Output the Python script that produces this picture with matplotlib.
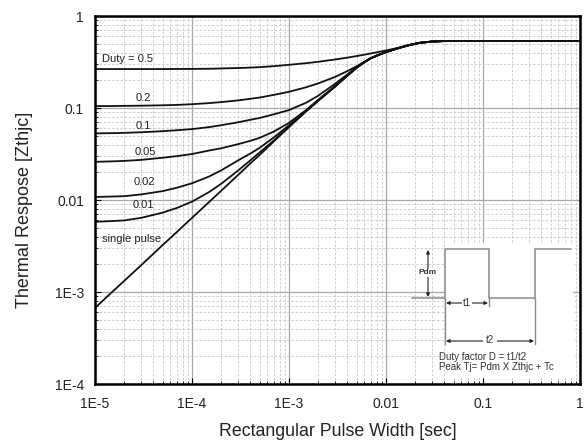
import matplotlib
matplotlib.use("Agg")
import matplotlib.pyplot as plt
from matplotlib.ticker import LogLocator, FixedLocator, FixedFormatter, NullFormatter
from matplotlib.patches import Rectangle

plt.rcParams['font.family'] = ['Liberation Sans', 'DejaVu Sans']

# ---- data ----
pulse_width = [1e-5, 1.5e-5, 2e-5, 3e-5, 5e-5, 7e-5, 1e-4, 1.5e-4, 2e-4, 3e-4, 4e-4, 5e-4,
               7e-4, 1e-3, 1.5e-3, 2e-3, 3e-3, 4e-3, 5e-3, 6e-3, 7e-3, 8.5e-3, 1e-2,
               1.3e-2, 1.7e-2, 2.2e-2, 3e-2, 4e-2, 5e-2, 1.0]

z_single = [6.7e-4, 1.0e-3, 1.32e-3, 1.96e-3, 3.25e-3, 4.5e-3, 6.4e-3, 9.5e-3, 0.0126, 0.0188,
            0.025, 0.031, 0.0435, 0.062, 0.092, 0.12, 0.172, 0.225, 0.275, 0.315, 0.348,
            0.38, 0.405, 0.443, 0.48, 0.51, 0.528, 0.534, 0.535, 0.535]
z_d001 = [0.0058, 0.0059, 0.006, 0.0064, 0.0073, 0.0082, 0.0096, 0.0122, 0.015, 0.021,
          0.027, 0.033, 0.0445, 0.063, 0.092, 0.12, 0.172, 0.225, 0.275, 0.315, 0.348,
          0.38, 0.405, 0.443, 0.48, 0.51, 0.528, 0.534, 0.535, 0.535]
z_d002 = [0.0108, 0.0109, 0.011, 0.0115, 0.0125, 0.0136, 0.0152, 0.018, 0.021, 0.027,
          0.032, 0.037, 0.048, 0.065, 0.093, 0.12, 0.172, 0.225, 0.275, 0.315, 0.348,
          0.38, 0.405, 0.443, 0.48, 0.51, 0.528, 0.534, 0.535, 0.535]
z_d005 = [0.026, 0.0263, 0.0266, 0.0273, 0.0288, 0.030, 0.0316, 0.0345, 0.0365, 0.0405,
          0.044, 0.0475, 0.0555, 0.069, 0.095, 0.123, 0.174, 0.226, 0.276, 0.315, 0.348,
          0.38, 0.405, 0.443, 0.48, 0.51, 0.528, 0.534, 0.535, 0.535]
z_d01 = [0.053, 0.0533, 0.0537, 0.0545, 0.056, 0.0573, 0.059, 0.062, 0.065, 0.07,
         0.0745, 0.078, 0.0855, 0.095, 0.114, 0.136, 0.184, 0.232, 0.28, 0.317, 0.349,
         0.38, 0.405, 0.443, 0.48, 0.51, 0.528, 0.534, 0.535, 0.535]
z_d02 = [0.105, 0.105, 0.1055, 0.106, 0.107, 0.108, 0.11, 0.113, 0.116, 0.121,
         0.126, 0.13, 0.139, 0.15, 0.168, 0.185, 0.218, 0.252, 0.285, 0.318, 0.35,
         0.381, 0.406, 0.443, 0.48, 0.51, 0.528, 0.534, 0.535, 0.535]
z_d05 = [0.265, 0.265, 0.265, 0.265, 0.265, 0.2655, 0.266, 0.267, 0.269, 0.272,
         0.275, 0.278, 0.285, 0.295, 0.307, 0.318, 0.337, 0.353, 0.367, 0.38, 0.392,
         0.408, 0.422, 0.448, 0.482, 0.51, 0.528, 0.534, 0.535, 0.535]

series = [z_d05, z_d02, z_d01, z_d005, z_d002, z_d001, z_single]

x_ticks = [1e-5, 1e-4, 1e-3, 1e-2, 1e-1, 1.0]
x_tick_labels = ["1E-5", "1E-4", "1E-3", "0.01", "0.1", "1"]
y_ticks = [1e-4, 1e-3, 1e-2, 1e-1, 1.0]
y_tick_labels = ["1E-4", "1E-3", "0.01", "0.1", "1"]

curve_labels = ["Duty = 0.5", "0.2", "0.1", "0.05", "0.02", "0.01", "single pulse"]
label_x = [1.18e-5, 2.6e-5, 2.65e-5, 2.55e-5, 2.5e-5, 2.45e-5, 1.18e-5]
label_y = [0.341, 0.128, 0.0637, 0.0334, 0.0157, 0.0088, 0.0038]

W, H = 585, 443
fig = plt.figure(figsize=(W / 100, H / 100), dpi=100)
ax = fig.add_axes([95 / W, 1 - 384 / H, 485 / W, 368 / H])
ax.set_xscale('log')
ax.set_yscale('log')
ax.set_xlim(1e-5, 1)
ax.set_ylim(1e-4, 1)

ax.xaxis.set_major_locator(FixedLocator(x_ticks))
ax.xaxis.set_major_formatter(FixedFormatter(x_tick_labels))
ax.yaxis.set_major_locator(FixedLocator(y_ticks))
ax.yaxis.set_major_formatter(FixedFormatter(y_tick_labels))
ax.xaxis.set_minor_locator(LogLocator(base=10, subs=range(2, 10), numticks=20))
ax.yaxis.set_minor_locator(LogLocator(base=10, subs=range(2, 10), numticks=20))
ax.xaxis.set_minor_formatter(NullFormatter())
ax.yaxis.set_minor_formatter(NullFormatter())

ax.grid(which='major', color='#a8a8a8', linestyle='-', linewidth=0.9)
ax.grid(which='minor', color='#c8c8c8', linestyle=(0, (3, 2)), linewidth=0.6)
ax.set_axisbelow(True)
ax.tick_params(which='both', direction='in', colors='black')
ax.tick_params(axis='x', labelsize=10, pad=9, labelcolor='#222222')
ax.tick_params(axis='y', labelsize=10, pad=8, labelcolor='#222222')
ax.tick_params(which='major', length=4, width=0.8)
ax.tick_params(which='minor', length=2.5, width=0.6)
for sp in ax.spines.values():
    sp.set_linewidth(1.8)
    sp.set_color('black')

for ys in series:
    ax.plot(pulse_width, ys, color='#111111', linewidth=1.3, solid_joinstyle='round')

for t, lx, ly in zip(curve_labels, label_x, label_y):
    ax.text(lx, ly, t, fontsize=8, color='#222222', ha='left', va='center')

ax.set_xlabel("Rectangular Pulse Width [sec]", fontsize=12.8, color='#222222')
ax.set_ylabel("Thermal Respose [Zthjc]", fontsize=13, color='#222222')
ax.xaxis.set_label_coords((338 - 95) / 485, -(432 - 384) / 368)
ax.yaxis.set_label_coords(-(95 - 25) / 485, (384 - 210) / 368)
ax.xaxis.label.set_va('center')
ax.yaxis.label.set_va('center')

# ---- inset diagram, drawn on an overlay in pixel coordinates ----
ov = fig.add_axes([0, 0, 1, 1])
ov.set_xlim(0, W)
ov.set_ylim(H, 0)
ov.axis('off')
ov.patch.set_alpha(0)

ov.add_patch(Rectangle((445, 243), 128, 135, facecolor='white', edgecolor='none'))
gray = '#8a8a8a'
ov.plot([412, 445, 445, 489, 489, 535, 535, 571],
        [298, 298, 249, 249, 298, 298, 249, 249], color=gray, lw=1.1)
ov.plot([445, 445], [298, 344], color=gray, lw=1.0)
ov.plot([535, 535], [298, 344], color=gray, lw=1.0)
ov.plot([489, 489], [298, 306], color=gray, lw=1.0)

arrow_kw = dict(arrowstyle='<|-|>', color='#222222', lw=0.8, mutation_scale=5, shrinkA=0, shrinkB=0)
ov.annotate('', xy=(428, 250), xytext=(428, 297), arrowprops=arrow_kw)
ov.text(428, 273, "Pdm", fontsize=6, ha='center', va='center', fontweight='bold', color='#333333',
        bbox=dict(facecolor='white', edgecolor='none', pad=0.5))
ov.annotate('', xy=(446, 303), xytext=(488, 303), arrowprops=arrow_kw)
ov.text(467, 303, "t1", fontsize=7, ha='center', va='center', color='#333333',
        bbox=dict(facecolor='white', edgecolor='none', pad=0.8))
ov.annotate('', xy=(446, 341), xytext=(534, 341), arrowprops=arrow_kw)
ov.text(490, 340, "t2", fontsize=7, ha='center', va='center', color='#333333',
        bbox=dict(facecolor='white', edgecolor='none', pad=2))
ov.text(439, 357, "Duty factor D = t1/t2", fontsize=7, ha='left', va='center', color='#333333')
ov.text(439, 367, "Peak Tj= Pdm X Zthjc + Tc", fontsize=7, ha='left', va='center', color='#333333')

fig.savefig("out.png", dpi=100)
